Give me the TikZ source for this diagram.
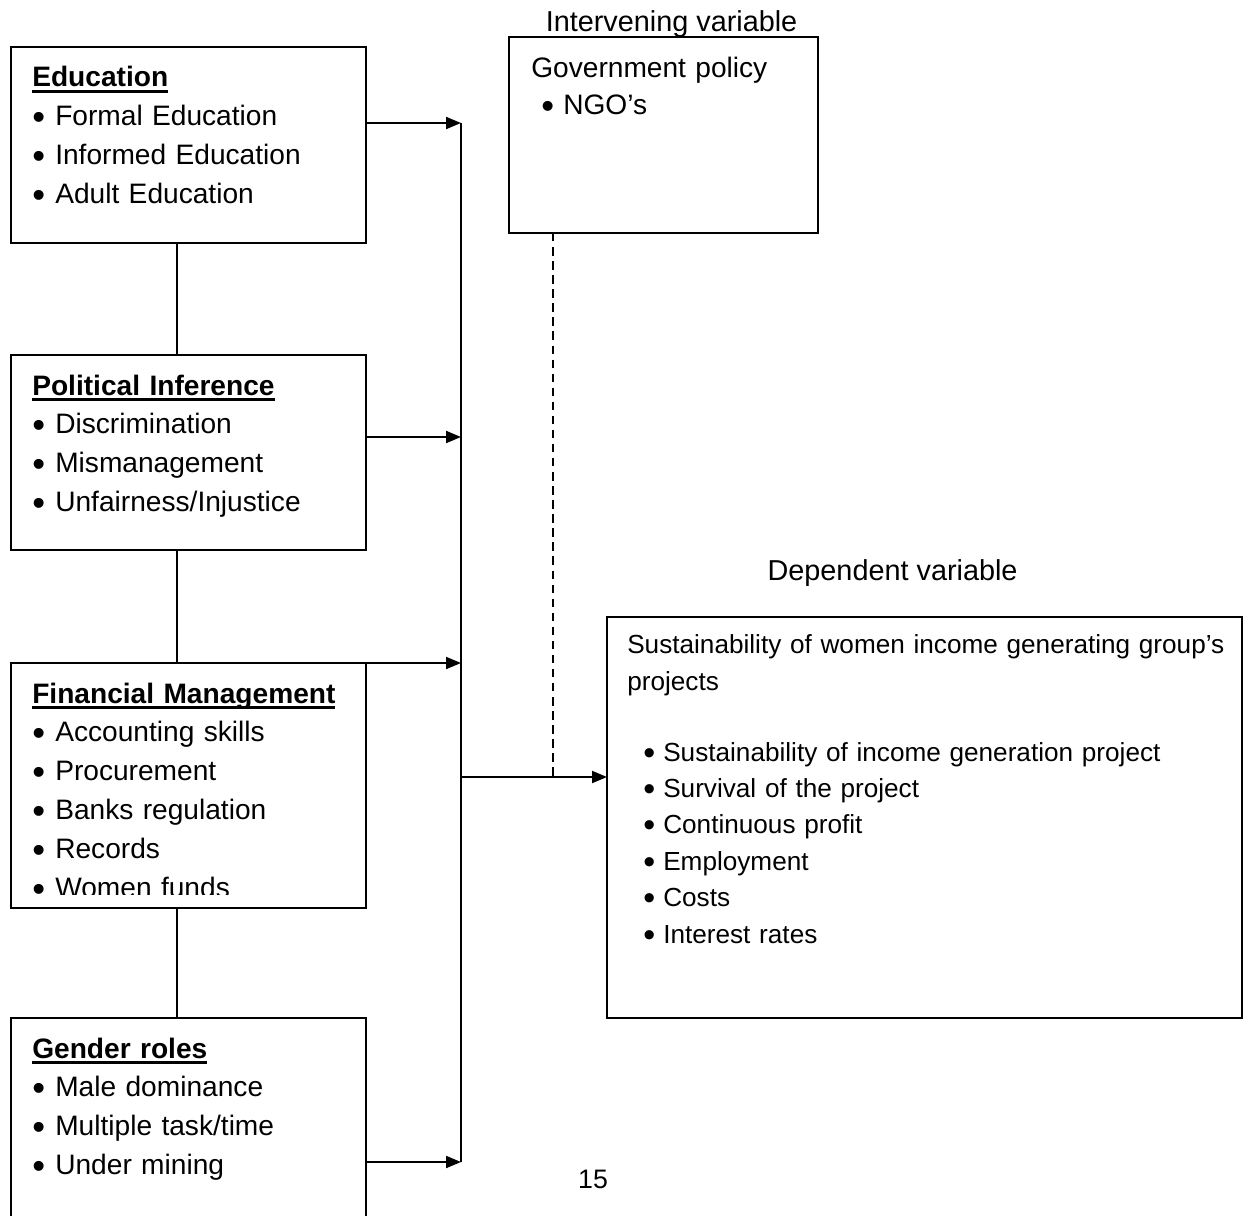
\documentclass[tikz,border=0pt]{standalone}
\usepackage{fontspec}
\setmainfont{Liberation Sans}
\usetikzlibrary{arrows.meta}
\usetikzlibrary{calc}
\tikzset{varbox/.style = {draw, line width=1.4pt, anchor=north west,
                          inner sep=0pt, outer sep=0pt}}
\tikzset{vartext/.style = {anchor=base west, inner sep=0pt, align=left, text width=8.5cm,
                           font=\fontsize{20}{27.7}\selectfont}}
\tikzset{label/.style = {anchor=base, inner sep=0pt, font=\fontsize{20.5}{24}\selectfont}}
\tikzset{link/.style = {line width=1.4pt}}
\tikzset{feed/.style = {line width=1.4pt, -{Triangle[length=0.375cm, width=0.3cm]}}}
\newcommand{\itm}[2][0.575cm]{\makebox[#1][l]{\raisebox{-0.12em}{\scalebox{1.3}{\textbullet}}}#2}
\newcommand{\hd}[1]{\setbox0\hbox{\bfseries #1}\rlap{\rule[-0.15cm]{\wd0}{0.075cm}}\box0}

\begin{document}
\begin{tikzpicture}[x=0.025cm, y=-0.025cm]
    \useasboundingbox (0, 0) rectangle (1244, 1216);

    \node [varbox, minimum width=8.875cm, minimum height=4.9cm] (edu) at (11, 47) {};
    \node [varbox, minimum width=8.875cm, minimum height=4.875cm] (pol) at (11, 355) {};
    \node [varbox, minimum width=8.875cm, minimum height=6.125cm] (fin) at (11, 663) {};
    \node [varbox, minimum width=8.875cm, minimum height=5.55cm] (gen) at (11, 1018) {};
    \node [varbox, minimum width=7.725cm, minimum height=4.9cm] (int) at (509, 37) {};
    \node [varbox, minimum width=15.875cm, minimum height=10.025cm] (dep) at (607, 617) {};

    \node [vartext] (edutxt) at ($(edu.north west) + (21, 40)$)
        {\hd{Education}\\ \itm{Formal Education}\\ \itm{Informed Education}\\ \itm{Adult Education}};
    \node [vartext] (poltxt) at ($(pol.north west) + (21, 40)$)
        {\hd{Political Inference}\\ \itm{Discrimination}\\ \itm{Mismanagement}\\ \itm{Unfairness/Injustice}};
    \begin{scope}
        \clip (fin.north west) rectangle ($(fin.south east) + (0, -14)$);
        \node [vartext] (fintxt) at ($(fin.north west) + (21, 40)$)
            {\hd{Financial Management}\\ \itm{Accounting skills}\\ \itm{Procurement}\\
             \itm{Banks regulation}\\ \itm{Records}\\ \itm{Women funds}};
    \end{scope}
    \node [vartext] (gentxt) at ($(gen.north west) + (21, 40)$)
        {\hd{Gender roles}\\ \itm{Male dominance}\\ \itm{Multiple task/time}\\ \itm{Under mining}};

    \node [vartext, font=\fontsize{20}{26.3}\selectfont] (inttxt) at ($(int.north west) + (22, 41)$)
        {Government policy\\ \hspace*{0.25cm}\itm[0.55cm]{NGO’s}};
    \node [label] (intlabel) at ($(int.north) + (8, -5)$) {Intervening variable};

    \node [label] (deplabel) at ($(dep.north) + (-32, -37)$) {Dependent variable};
    \node [vartext, text width=15.5cm, font=\fontsize{18.6}{27}\selectfont] (deptitle)
        at ($(dep.north west) + (20, 36)$) {Sustainability of women income generating group’s\\ projects};
    \node [vartext, text width=15cm, font=\fontsize{18.6}{25.9}\selectfont] (deplist)
        at ($(dep.north west) + (36, 144)$)
        {\itm[0.5cm]{Sustainability of income generation project}\\ \itm[0.5cm]{Survival of the project}\\
         \itm[0.5cm]{Continuous profit}\\ \itm[0.5cm]{Employment}\\ \itm[0.5cm]{Costs}\\
         \itm[0.5cm]{Interest rates}};

    \node [label, font=\fontsize{19}{24}\selectfont] (pagenum) at (593, 1188) {15};

    \coordinate (bus1) at (461, 123);
    \coordinate (bus2) at (461, 437);
    \coordinate (bus3) at (461, 663);
    \coordinate (bus4) at (461, 1162);
    \coordinate (hub) at (461, 777);
    \coordinate (tap) at (553, 777);
    \coordinate (spine) at (177, 0);

    \draw [link] (edu.south -| spine) -- (pol.north -| spine);
    \draw [link] (pol.south -| spine) -- (fin.north -| spine);
    \draw [link] (fin.south -| spine) -- (gen.north -| spine);

    \draw [feed] (edu.east |- bus1) -- (bus1);
    \draw [feed] (pol.east |- bus2) -- (bus2);
    \draw [feed] (fin.north east) -- (bus3);
    \draw [feed] (gen.east |- bus4) -- (bus4);
    \draw [link] (bus1) -- (bus4);

    \draw [line width=1pt, dash pattern=on 6pt off 4pt] (int.south -| tap) -- (tap);
    \draw [feed] (hub) -- (hub -| dep.west);
\end{tikzpicture}
\end{document}
